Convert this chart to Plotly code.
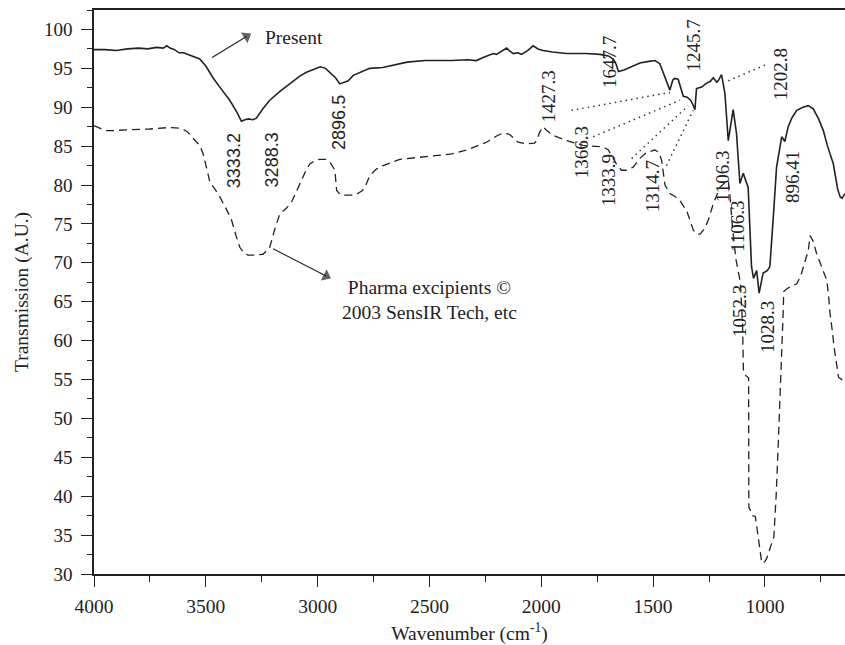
import plotly.graph_objects as go

# ---- Data ----
present_x = [4000, 3950, 3900, 3850, 3800, 3760, 3720, 3690, 3675, 3660, 3640, 3620, 3600, 3560, 3527,
             3500, 3468, 3430, 3393, 3360, 3341, 3325, 3310, 3290, 3274, 3245, 3214, 3170, 3125, 3080,
             3050, 3010, 2988, 2965, 2946, 2920, 2901, 2880, 2863, 2841, 2800, 2767, 2709, 2650, 2600,
             2520, 2483, 2400, 2330, 2290, 2260, 2240, 2215, 2200, 2180, 2155, 2140, 2125, 2105, 2088,
             2060, 2036, 2015, 1992, 1950, 1887, 1800, 1738, 1700, 1678, 1665, 1655, 1630, 1604, 1559,
             1520, 1492, 1470, 1455, 1440, 1425, 1412, 1403, 1388, 1375, 1365, 1348, 1332, 1320, 1313,
             1306, 1283, 1261, 1245, 1231, 1215, 1209, 1194, 1179, 1164, 1142, 1127, 1112, 1097, 1075,
             1060, 1051, 1037, 1026, 1015, 1008, 990, 978, 960, 948, 925, 911, 896, 880, 858,
             830, 806, 795, 784, 760, 739, 720, 694, 675, 664, 655, 642]
present_y = [97.4, 97.4, 97.3, 97.5, 97.6, 97.5, 97.7, 97.6, 97.9, 97.6, 97.4, 97.0, 97.0, 96.6, 96.2,
             95.3, 93.8, 92.3, 90.9, 89.3, 88.2, 88.4, 88.5, 88.4, 88.6, 89.8, 90.9, 92.0, 93.0, 94.0,
             94.5, 94.9, 95.2, 95.0, 94.5, 93.8, 93.0, 93.2, 93.4, 94.1, 94.6, 95.0, 95.1, 95.5, 95.8,
             96.0, 96.0, 96.0, 96.1, 96.0, 96.4, 96.6, 96.9, 96.8, 97.2, 97.6, 97.2, 96.9, 97.0, 96.8,
             97.3, 97.9, 97.5, 97.3, 97.1, 96.9, 96.9, 96.8, 96.6, 96.2, 95.5, 94.6, 94.8, 95.1, 95.7,
             95.9, 96.0, 95.6, 94.5, 93.4, 92.2, 93.5, 93.7, 93.6, 92.5, 91.4, 91.3, 90.9, 90.2, 89.7,
             92.4, 92.6, 93.1, 93.3, 93.8, 93.2, 93.4, 94.2, 91.8, 85.7, 89.7, 86.6, 80.2, 81.5, 79.7,
             69.5, 68.0, 69.0, 66.1, 67.5, 68.7, 69.0, 69.5, 77.0, 82.3, 86.2, 85.6, 87.5, 88.6, 89.6,
             90.0, 90.2, 90.0, 89.8, 88.5, 87.0, 85.0, 82.7, 79.5, 78.5, 78.3, 78.9]

pharma_x = [4000, 3989, 3950, 3914, 3850, 3751, 3661, 3609, 3580, 3564, 3527, 3512, 3495, 3482, 3460,
            3438, 3410, 3385, 3365, 3348, 3330, 3311, 3280, 3244, 3214, 3190, 3169, 3140, 3117, 3090,
            3072, 3050, 3035, 3010, 2990, 2965, 2946, 2930, 2923, 2915, 2900, 2886, 2850, 2826, 2800,
            2789, 2767, 2740, 2707, 2633, 2543, 2483, 2400, 2334, 2290, 2245, 2200, 2170, 2141, 2120,
            2104, 2066, 2030, 2021, 2007, 1992, 1975, 1947, 1887, 1813, 1723, 1700, 1678, 1660, 1641,
            1620, 1589, 1560, 1529, 1492, 1475, 1462, 1447, 1425, 1400, 1380, 1350, 1320, 1305, 1290,
            1270, 1253, 1231, 1201, 1180, 1164, 1156, 1145, 1130, 1110, 1100, 1096, 1085, 1073, 1072,
            1055, 1043, 1025, 1014, 1000, 992, 960, 950, 940, 930, 922, 918, 916, 900, 880,
            858, 840, 828, 815, 806, 798, 785, 769, 745, 724, 716, 709, 700, 690, 671,
            655, 642]
pharma_y = [87.6, 87.5, 87.0, 87.0, 87.1, 87.2, 87.4, 87.3, 86.8, 86.2, 85.1, 84.0, 82.0, 80.4, 79.5,
            78.5, 77.0, 75.5, 73.5, 72.0, 71.3, 71.0, 71.0, 71.1, 72.0, 74.5, 76.3, 77.0, 77.8, 79.5,
            80.6, 82.0, 82.7, 83.2, 83.3, 83.3, 83.0, 82.3, 81.9, 79.3, 78.8, 78.7, 78.7, 78.8, 79.3,
            79.7, 81.2, 82.0, 82.5, 83.3, 83.6, 83.8, 84.0, 84.5, 85.0, 85.5, 86.3, 86.7, 86.5, 85.9,
            85.5, 85.3, 85.4, 85.7, 86.8, 87.5, 87.0, 86.4, 85.7, 85.1, 84.9, 84.5, 83.4, 82.5, 81.9,
            81.9, 82.3, 83.4, 84.2, 84.5, 84.2, 83.2, 80.0, 78.9, 78.5, 78.0, 76.7, 74.2, 73.7, 73.7,
            74.4, 75.5, 77.6, 79.7, 80.3, 80.6, 78.5, 74.5, 70.5, 67.5, 62.0, 55.8, 55.5, 55.2, 38.6,
            37.5, 37.4, 33.5, 31.4, 31.6, 32.0, 34.8, 40.0, 47.0, 54.0, 60.5, 64.0, 66.3, 66.7, 67.0,
            67.3, 68.3, 69.5, 70.8, 71.6, 73.5, 72.8, 71.2, 69.5, 67.8, 66.0, 63.5, 61.5, 59.0, 55.3,
            54.9, 54.7]

# peak labels (text, wavenumber, transmission, font)
peak_text = ["3333.2", "3288.3", "2896.5", "1427.3", "1647.7", "1245.7", "1202.8", "1366.3",
             "1333.9", "1314.7", "1106.3", "1106.3", "896.41", "1052.3", "1028.3"]
peak_x = [3373, 3203, 2905, 1969, 1698, 1318, 931, 1823, 1698, 1503, 1190, 1123, 877, 1116, 989]
peak_y = [83.1, 83.2, 88.1, 91.4, 95.8, 97.9, 94.3, 84.2, 80.6, 79.9, 81.2, 74.8, 81.1, 63.8, 61.8]
peak_sans = [True, True, True] + [False] * 12

# dotted leader lines (x0, y0, x1, y1)
leader_x0 = [1865, 1768, 1596, 1440, 1164]
leader_y0 = [89.6, 86.2, 83.4, 82.5, 93.4]
leader_x1 = [1425, 1380, 1343, 1321, 985]
leader_y1 = [91.9, 90.9, 90.2, 89.6, 95.6]

# pointer arrows (tail -> head)
arrow_tail_x = [3472, 3199]
arrow_tail_y = [96.4, 71.8]
arrow_head_x = [3318, 2962]
arrow_head_y = [99.1, 68.3]

x_ticks = [4000, 3500, 3000, 2500, 2000, 1500, 1000]
y_ticks = list(range(30, 101, 5))

SERIF = "Liberation Serif"
SANS = "Liberation Sans"
INK = "#222222"

fig = go.Figure()

for x0, y0, x1, y1 in zip(leader_x0, leader_y0, leader_x1, leader_y1):
    fig.add_trace(go.Scatter(x=[x0, x1], y=[y0, y1], mode="lines",
                             line=dict(color="#333333", width=1.5, dash="1.5px,4px"),
                             hoverinfo="skip", showlegend=False))

fig.add_trace(go.Scatter(x=pharma_x, y=pharma_y, mode="lines",
                         line=dict(color=INK, width=1.3, dash="8px,5px"),
                         name="Pharma excipients", showlegend=False))
fig.add_trace(go.Scatter(x=present_x, y=present_y, mode="lines",
                         line=dict(color=INK, width=1.6),
                         name="Present", showlegend=False))

for tx, ty, hx, hy in zip(arrow_tail_x, arrow_tail_y, arrow_head_x, arrow_head_y):
    fig.add_trace(go.Scatter(x=[tx, hx], y=[ty, hy], mode="lines+markers",
                             line=dict(color=INK, width=1.1),
                             marker=dict(symbol="triangle-up", size=[0, 11], color=INK,
                                         angleref="previous", line=dict(width=0)),
                             hoverinfo="skip", showlegend=False))

annotations = []
for t, x, y, s in zip(peak_text, peak_x, peak_y, peak_sans):
    annotations.append(dict(x=x, y=y, xref="x", yref="y", text=t, showarrow=False,
                            textangle=-90,
                            font=dict(family=SANS if s else SERIF, size=18 if s else 19, color=INK)))

annotations.append(dict(x=3244, y=99.0, xref="x", yref="y", text="Present", showarrow=False,
                        xanchor="left", yanchor="middle",
                        font=dict(family=SERIF, size=19.5, color=INK)))
annotations.append(dict(x=2901, y=65.2, xref="x", yref="y",
                        text="Pharma excipients ©<br>2003 SensIR Tech, etc", showarrow=False,
                        xanchor="left", yanchor="middle", align="center",
                        font=dict(family=SERIF, size=19.5, color=INK)))

fig.update_layout(
    width=845, height=645,
    margin=dict(l=94, r=0, t=10, b=71),
    paper_bgcolor="white", plot_bgcolor="white",
    annotations=annotations,
    font=dict(family=SERIF, color=INK),
)

fig.update_xaxes(range=[4000, 642], tickvals=x_ticks, ticktext=[str(v) for v in x_ticks],
                 showgrid=False, zeroline=False, showline=True, linecolor=INK, linewidth=1.5,
                 mirror=True, ticks="outside", ticklen=11, tickwidth=1.3, tickcolor=INK,
                 ticklabelstandoff=3,
                 tickfont=dict(family=SERIF, size=19.5, color=INK),
                 minor=dict(dtick=250, tick0=0, ticks="outside", ticklen=6, tickwidth=1.3, tickcolor=INK),
                 title=dict(text="Wavenumber (cm<sup>-1</sup>)", font=dict(family=SERIF, size=19.5, color=INK),
                            standoff=10))
fig.update_yaxes(range=[30, 102.5], tickvals=y_ticks, ticktext=[str(v) for v in y_ticks],
                 showgrid=False, zeroline=False, showline=True, linecolor=INK, linewidth=1.5,
                 mirror=False, ticks="outside", ticklen=11, tickwidth=1.3, tickcolor=INK,
                 ticklabelstandoff=5,
                 tickfont=dict(family=SERIF, size=19, color=INK),
                 minor=dict(dtick=2.5, tick0=0, ticks="outside", ticklen=5, tickwidth=1.3, tickcolor=INK),
                 title=dict(text="Transmission (A.U.)", font=dict(family=SERIF, size=19.5, color=INK),
                            standoff=10))

fig.write_html("out.html")
